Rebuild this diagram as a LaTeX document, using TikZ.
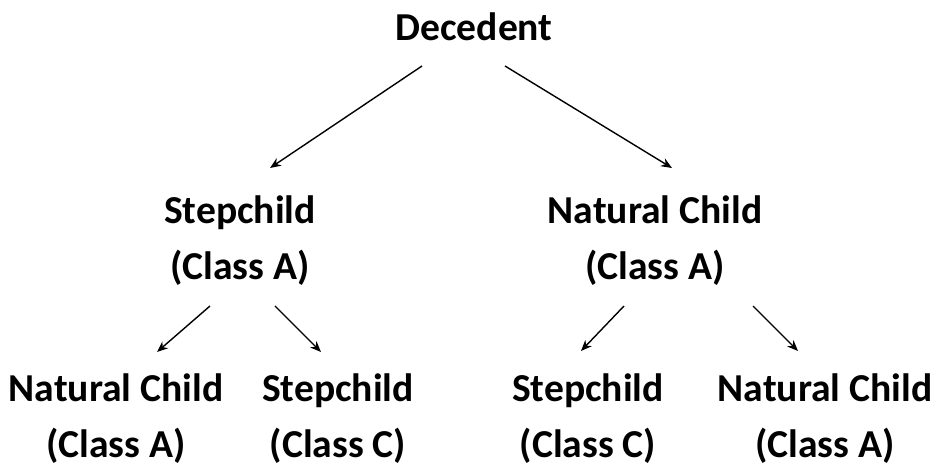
\documentclass[tikz,border=0pt]{standalone}
\usepackage{fontspec}
\setmainfont{Carlito}
\usetikzlibrary{arrows.meta}

\begin{document}
\begin{tikzpicture}[
    x=0.5pt, y=-0.5pt,
    person/.style={align=center, inner sep=0pt, font=\fontsize{19.8}{28}\selectfont\bfseries},
    arrow/.style={-{Stealth[length=5.5pt,width=4.5pt]}, line width=0.7pt}
]
\useasboundingbox (0,0) rectangle (944,470);

% Decedent
\node[person] (dec) at (474,27) {Decedent};

% Children of the decedent
\node[person] (step) at (240,241) {Stepchild\\(Class A)};
\node[person] (nat) at (655,241) {Natural Child\\(Class A)};

% Grandchildren
\node[person] (natA) at (116,419) {Natural Child\\(Class A)};
\node[person] (stepC) at (338,419) {Stepchild\\(Class C)};
\node[person] (stepCC) at (588,419) {Stepchild\\(Class C)};
\node[person] (natAA) at (825,419) {Natural Child\\(Class A)};

% Arrows
\draw[arrow] ([shift={(-52,39)}]dec.center) -- ([shift={(30,-73)}]step.center);
\draw[arrow] ([shift={(31,39)}]dec.center) -- ([shift={(17,-73)}]nat.center);
\draw[arrow] ([shift={(-30,65)}]step.center) -- ([shift={(41,-67)}]natA.center);
\draw[arrow] ([shift={(35,65)}]step.center) -- ([shift={(-17,-67)}]stepC.center);
\draw[arrow] ([shift={(-31,65)}]nat.center) -- ([shift={(-7,-68)}]stepCC.center);
\draw[arrow] ([shift={(98,65)}]nat.center) -- ([shift={(-27,-68)}]natAA.center);

\end{tikzpicture}
\end{document}
